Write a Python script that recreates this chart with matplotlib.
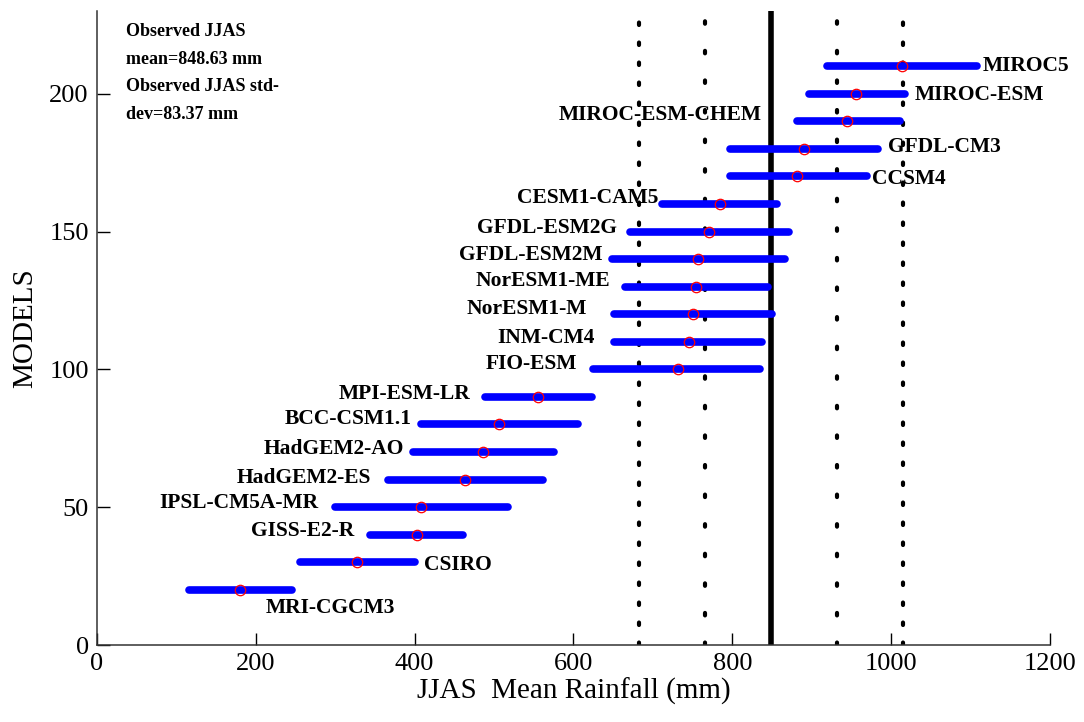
import numpy as np
import matplotlib
matplotlib.use("Agg")
import matplotlib.pyplot as plt

# ---------------- data ----------------
models = ["MRI-CGCM3", "CSIRO", "GISS-E2-R", "IPSL-CM5A-MR", "HadGEM2-ES",
          "HadGEM2-AO", "BCC-CSM1.1", "MPI-ESM-LR", "FIO-ESM", "INM-CM4",
          "NorESM1-M", "NorESM1-ME", "GFDL-ESM2M", "GFDL-ESM2G", "CESM1-CAM5",
          "CCSM4", "GFDL-CM3", "MIROC-ESM-CHEM", "MIROC-ESM", "MIROC5"]
model_y = [20, 30, 40, 50, 60, 70, 80, 90, 100, 110,
           120, 130, 140, 150, 160, 170, 180, 190, 200, 210]
model_mean = [180, 327, 403, 408, 464, 486, 506, 555, 731, 745,
              750, 754, 757, 771, 785, 882, 890, 945, 956, 1014]
model_low = [116, 255, 344, 300, 367, 398, 408, 489, 625, 651,
             651, 665, 648, 671, 711, 797, 797, 882, 896, 919]
model_high = [245, 400, 461, 518, 561, 575, 606, 623, 835, 838,
              850, 845, 866, 872, 856, 969, 984, 1011, 1018, 1108]

obs_mean = 848.63
obs_std = 83.37

xticks = [0, 200, 400, 600, 800, 1000, 1200]
yticks = [0, 50, 100, 150, 200]

# label anchor positions (layout): x, y, horizontal alignment
label_x = [212, 412, 324, 279, 345, 387, 396, 470, 605, 627,
           617, 646, 636, 655, 707, 976, 996, 837, 1030, 1115]
label_y = [13.5, 29, 41.3, 51.5, 60.6, 71.1, 82, 91.1, 102.1, 111.5,
           121.8, 132.2, 141.4, 151.3, 162.2, 169, 180.5, 192.3, 199.6, 210]
label_ha = ["left", "left", "right", "right", "right", "right", "right", "right",
            "right", "right", "right", "right", "right", "right", "right",
            "left", "left", "right", "left", "left"]

# ---------------- plot ----------------
serif = ["Liberation Serif", "DejaVu Serif"]
plt.rcParams["font.family"] = serif

fig = plt.figure(figsize=(10.84, 7.22), dpi=100)
ax = fig.add_axes([0.0895, 0.1066, 0.8791, 0.8782])

# observed mean and +-1, +-2 std lines
ax.axvline(obs_mean, color="black", lw=4.0, zorder=2)
for k in (-2, -1, 1, 2):
    dash = (0.6, 4.2) if abs(k) == 2 else (0.6, 6.5)
    ax.axvline(obs_mean + k * obs_std, color="black", lw=3.0,
               linestyle=(0, dash), dash_capstyle="round", zorder=2)

# model ranges
for y, lo, hi, m in zip(model_y, model_low, model_high, model_mean):
    ax.plot([lo, hi], [y, y], color="#0000ff", lw=5.5,
            solid_capstyle="round", zorder=3)
    ax.plot([m], [y], marker="o", ms=7.5, mfc="none", mec="red",
            mew=0.9, zorder=4)

for name, x, y, ha in zip(models, label_x, label_y, label_ha):
    ax.text(x, y, name, ha=ha, va="center", fontsize=15.5,
            fontweight="bold", color="black", zorder=5)

info = ["Observed JJAS", "mean=848.63 mm", "Observed JJAS std-", "dev=83.37 mm"]
info_y = [222.4, 212.3, 202.5, 192.4]
for t, y in zip(info, info_y):
    ax.text(36, y, t, ha="left", va="center", fontsize=13,
            fontweight="bold", color="black")

ax.set_xlim(0, 1200)
ax.set_ylim(0, 230)
ax.set_xticks(xticks)
ax.set_yticks(yticks)
ax.tick_params(direction="in", length=9, width=1, labelsize=19,
               top=False, right=False, pad=6)
for s in ("top", "right"):
    ax.spines[s].set_visible(False)
for s in ("left", "bottom"):
    ax.spines[s].set_linewidth(1.1)
    ax.spines[s].set_color("#333333")

ax.set_xlabel("JJAS  Mean Rainfall (mm)", fontsize=21, labelpad=2)
ax.set_ylabel("MODELS", fontsize=21, labelpad=8)

fig.savefig("out.png", dpi=100)
